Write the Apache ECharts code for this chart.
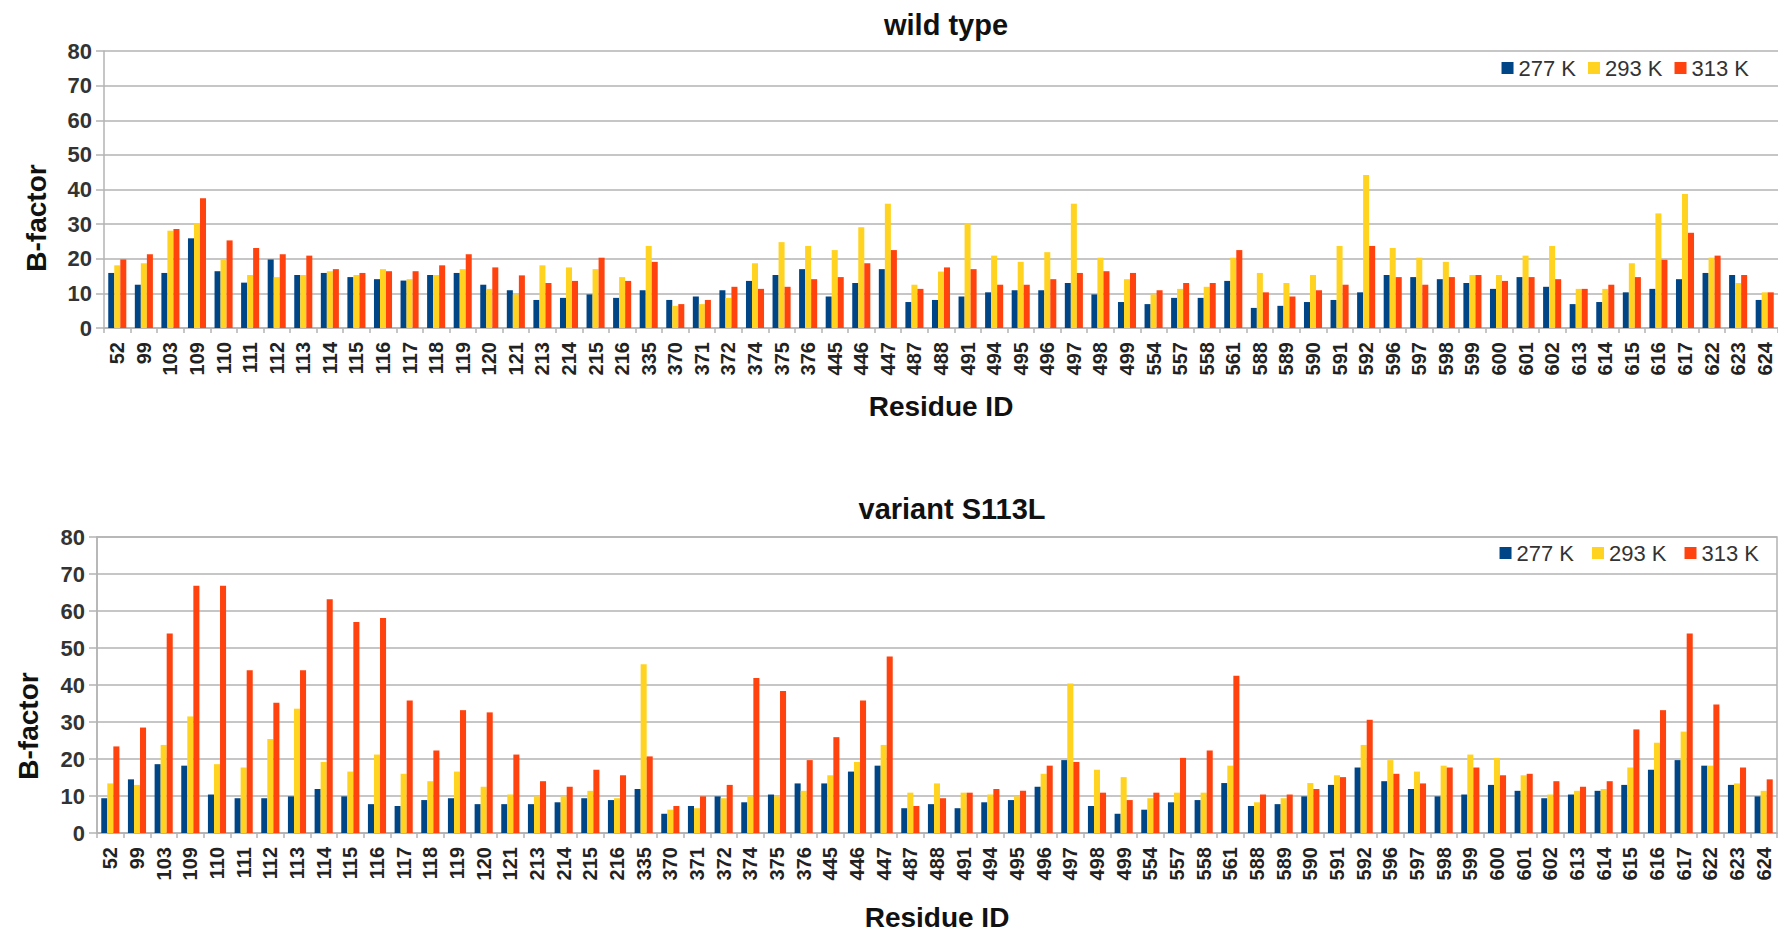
<html lang="en">
<head>
    <meta charset="UTF-8">
    <title>B-factor</title>
    <style>
        html, body { margin: 0; padding: 0; background: #fff; }
    </style>
</head>
<body>
    <div id="container" style="width:1778px;height:932px"></div>

    <script src="https://cdn.jsdelivr.net/npm/echarts@6/dist/echarts.min.js"></script>
    <script>
        var residues = ['52','99','103','109','110','111','112','113','114','115',
            '116','117','118','119','120','121','213','214','215','216',
            '335','370','371','372','374','375','376','445','446','447',
            '487','488','491','494','495','496','497','498','499','554',
            '557','558','561','588','589','590','591','592','596','597',
            '598','599','600','601','602','613','614','615','616','617',
            '622','623','624'];

        var temps = ['277 K', '293 K', '313 K'];

        // wild type
        var wt277 = [15.9,12.5,15.9,25.9,16.4,13.1,19.8,15.3,15.9,14.7,
            14.1,13.7,15.3,15.9,12.5,10.9,8.1,8.7,9.7,8.7,
            10.9,8.1,9.1,10.9,13.6,15.3,17.0,9.1,13.0,17.0,
            7.5,8.1,9.1,10.3,10.9,10.9,13.0,9.7,7.5,6.9,
            8.7,8.7,13.6,5.8,6.4,7.5,8.1,10.3,15.3,14.7,
            14.1,13.0,11.3,14.7,11.9,6.9,7.5,10.3,11.3,14.1,
            15.9,15.3,8.1];
        var wt293 = [18.1,18.7,28.1,30.3,19.8,15.3,14.7,15.3,16.4,15.3,
            17.0,14.1,15.3,17.0,11.3,9.7,18.1,17.5,17.0,14.7,
            23.7,6.4,6.9,8.7,18.7,24.8,23.7,22.5,29.1,35.9,
            12.5,16.3,30.3,20.9,19.1,21.9,35.9,20.3,14.1,9.7,
            11.3,11.9,20.3,15.9,13.0,15.3,23.7,44.2,23.1,20.3,
            19.1,15.3,15.3,20.9,23.7,11.3,11.3,18.7,33.1,38.7,
            20.3,13.0,10.3];
        var wt313 = [19.8,21.3,28.6,37.5,25.3,23.1,21.3,20.9,17.0,15.9,
            16.4,16.4,18.1,21.3,17.5,15.2,13.0,13.6,20.3,13.6,
            19.1,6.9,8.1,11.9,11.3,11.9,14.1,14.7,18.7,22.5,
            11.3,17.5,17.0,12.5,12.5,14.1,15.9,16.4,15.9,10.9,
            13.0,13.0,22.5,10.3,9.1,10.9,12.5,23.7,14.7,12.5,
            14.7,15.3,13.6,14.7,14.1,11.3,12.5,14.7,19.7,27.5,
            20.9,15.3,10.3];

        // variant S113L
        var mut277 = [9.4,14.5,18.6,18.2,10.4,9.4,9.4,9.9,11.9,9.9,
            7.8,7.3,8.9,9.4,7.8,7.8,7.8,8.3,9.4,8.9,
            11.9,5.2,7.3,9.9,8.3,10.4,13.4,13.4,16.6,18.2,
            6.7,7.8,6.7,8.3,8.9,12.5,19.7,7.3,5.2,6.3,
            8.3,8.9,13.5,7.3,7.8,9.9,13.0,17.7,14.0,11.9,
            9.9,10.4,13.0,11.4,9.4,10.4,11.4,13.0,17.1,19.7,
            18.2,13.0,9.9];
        var mut293 = [13.4,13.0,23.8,31.5,18.6,17.7,25.4,33.6,19.2,16.6,
            21.2,16.0,14.0,16.6,12.5,10.4,9.9,9.9,11.4,9.4,
            45.6,6.3,6.7,9.4,9.9,9.9,11.4,15.6,19.2,23.8,
            10.9,13.4,10.9,10.4,9.9,16.0,40.4,17.1,15.1,9.4,
            10.9,10.9,18.2,8.3,9.4,13.5,15.6,23.8,19.7,16.6,
            18.2,21.2,20.3,15.6,10.4,11.4,11.9,17.7,24.4,27.4,
            18.2,13.4,11.4];
        var mut313 = [23.4,28.5,53.9,66.8,66.8,44.0,35.2,44.0,63.2,57.0,
            58.1,35.8,22.3,33.2,32.6,21.2,14.0,12.5,17.1,15.6,
            20.7,7.3,9.9,13.0,41.9,38.4,19.7,25.9,35.8,47.7,
            7.3,9.4,10.9,11.9,11.4,18.2,19.2,10.9,8.9,10.9,
            20.3,22.3,42.5,10.4,10.4,11.9,15.1,30.6,16.0,13.4,
            17.7,17.7,15.6,16.0,14.0,12.5,14.0,28.0,33.2,53.9,
            34.7,17.7,14.5];

        var colors = ['#004586', '#ffd320', '#ff420e'];
        var font = '"Liberation Sans", Arial, sans-serif';
        var gridColor = '#b3b3b3';

        paint();

        function makeX(idx) {
            return {
                type: 'category',
                gridIndex: idx,
                data: residues,
                name: 'Residue ID',
                nameLocation: 'middle',
                nameGap: idx === 0 ? 64 : 70,
                nameTextStyle: { fontFamily: font, fontWeight: 'bold', fontSize: 28, color: '#111' },
                axisLine: { lineStyle: { color: gridColor, width: 1.5 } },
                axisTick: { show: true, length: 5, lineStyle: { color: gridColor, width: 1.5 } },
                axisLabel: {
                    interval: 0, rotate: 90, margin: 14,
                    fontFamily: font, fontWeight: 'bold', fontSize: 20, color: '#222'
                },
                splitLine: { show: false }
            };
        }

        function makeY(idx) {
            return {
                type: 'value',
                gridIndex: idx,
                min: 0, max: 80, interval: 10,
                axisLine: { show: true, lineStyle: { color: gridColor, width: 1.5 } },
                axisTick: { show: true, length: 8, lineStyle: { color: gridColor, width: 1.5 } },
                axisLabel: { margin: 12, fontFamily: font, fontWeight: 'bold', fontSize: 22, color: '#333' },
                splitLine: { lineStyle: { color: gridColor, width: 1.5 } }
            };
        }

        function makeSeries(idx, lists) {
            return lists.map(function (vals, i) {
                return {
                    name: temps[i],
                    type: 'bar',
                    xAxisIndex: idx,
                    yAxisIndex: idx,
                    data: vals,
                    barGap: '0%',
                    barCategoryGap: '32%',
                    itemStyle: { color: colors[i] },
                    animation: false
                };
            });
        }

        function paint() {
            var myChart = echarts.init(document.getElementById('container'), null, { renderer: 'svg' });
            var legendText = { fontFamily: font, fontSize: 22, color: '#333' };
            var option = {
                backgroundColor: '#fff',
                color: colors,
                animation: false,
                title: [{
                    text: 'wild type',
                    left: 941, top: 5, textAlign: 'center',
                    textStyle: { fontFamily: font, fontWeight: 'bold', fontSize: 29, color: '#111' }
                }, {
                    text: 'variant S113L',
                    left: 947, top: 489, textAlign: 'center',
                    textStyle: { fontFamily: font, fontWeight: 'bold', fontSize: 29, color: '#111' }
                }],
                legend: [{
                    data: temps, right: 24, top: 52,
                    icon: 'rect', itemWidth: 12, itemHeight: 12, itemGap: 12,
                    selectedMode: false, textStyle: legendText
                }, {
                    data: temps, right: 14, top: 537,
                    icon: 'rect', itemWidth: 12, itemHeight: 12, itemGap: 18,
                    selectedMode: false, textStyle: legendText
                }],
                grid: [
                    { left: 104, right: 0, top: 51, height: 277 },
                    { left: 97, right: 1, top: 537, height: 297, show: true, borderColor: gridColor, borderWidth: 1.5 }
                ],
                xAxis: [makeX(0), makeX(1)],
                yAxis: [makeY(0), makeY(1)],
                graphic: [{
                    type: 'text', x: 36, y: 218, rotation: Math.PI / 2,
                    style: {
                        text: 'B-factor', font: 'bold 28px ' + font, fill: '#111',
                        textAlign: 'center', textVerticalAlign: 'middle', verticalAlign: 'middle'
                    }
                }, {
                    type: 'text', x: 28, y: 726, rotation: Math.PI / 2,
                    style: {
                        text: 'B-factor', font: 'bold 28px ' + font, fill: '#111',
                        textAlign: 'center', textVerticalAlign: 'middle', verticalAlign: 'middle'
                    }
                }],
                series: makeSeries(0, [wt277, wt293, wt313]).concat(makeSeries(1, [mut277, mut293, mut313]))
            };
            myChart.setOption(option);
        }
    </script>
</body>
</html>
